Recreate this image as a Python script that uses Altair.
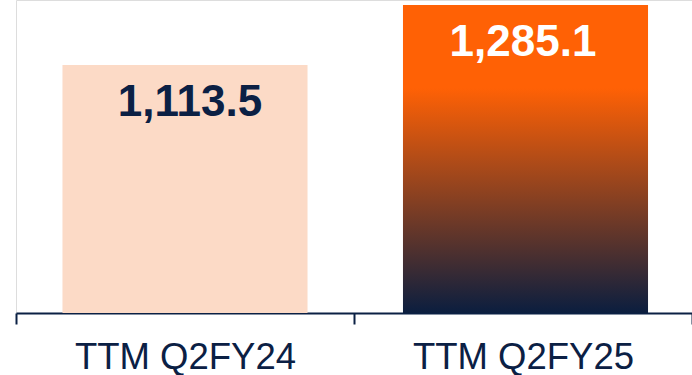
import altair as alt
import pandas as pd

categories = ["TTM Q2FY24", "TTM Q2FY25"]
values = [1113.5, 1285.1]
labels = ["1,113.5", "1,285.1"]
label_colors = ["#0B2044", "#FFFFFF"]

BASE = 404.3
TOP = 1299.5
NAVY = "#0B2044"

df = pd.DataFrame({"cat": categories, "value": values, "label": labels, "lc": label_colors})

x = alt.X("cat:N", sort=categories, title=None,
          scale=alt.Scale(paddingInner=0, paddingOuter=0),
          axis=alt.Axis(tickBand="extent", labelAngle=0, labelFont="Liberation Sans",
                        labelFontSize=36.5, labelColor=NAVY, labelPadding=15,
                        domainColor=NAVY, domainWidth=2, tickColor=NAVY, tickWidth=2,
                        tickSize=11, labelLimit=0, grid=False))
y = alt.Y("value:Q", scale=alt.Scale(domain=[BASE, TOP], zero=False), axis=None)

base = alt.Chart(df)

bar1 = base.transform_filter(alt.datum.cat == categories[0]).mark_bar(
    width=alt.RelativeBandSize(0.725), color="#FCDAC6"
).encode(x=x, y=y, y2=alt.datum(BASE))

grad = alt.Gradient(
    gradient="linear", x1=0, y1=0, x2=0, y2=1,
    stops=[alt.GradientStop(color="#FF6105", offset=0),
           alt.GradientStop(color="#FF6105", offset=0.27),
           alt.GradientStop(color="#0B1E3F", offset=1)])

bar2 = base.transform_filter(alt.datum.cat == categories[1]).mark_bar(
    width=alt.RelativeBandSize(0.725), color=grad, xOffset=2.5
).encode(x=x, y=y, y2=alt.datum(BASE))

text1 = base.transform_filter(alt.datum.cat == categories[0]).mark_text(
    font="Liberation Sans", fontWeight="bold", fontSize=44,
    baseline="middle", dy=38, dx=5).encode(
    x=x, y=y, text="label:N", color=alt.Color("lc:N", scale=None))

text2 = base.transform_filter(alt.datum.cat == categories[1]).mark_text(
    font="Liberation Sans", fontWeight="bold", fontSize=44,
    baseline="middle", dy=38, dx=0).encode(
    x=x, y=y, text="label:N", color=alt.Color("lc:N", scale=None))

chart = alt.layer(bar1, bar2, text1, text2).properties(
    width=676, height=313,
    autosize=alt.AutoSizeParams(type="none"),
    padding={"left": 16, "top": 0, "right": 0, "bottom": 62},
).configure_view(stroke=None).configure(background="white")

chart.save("out.html", embed_options={"renderer": "svg", "actions": False})
